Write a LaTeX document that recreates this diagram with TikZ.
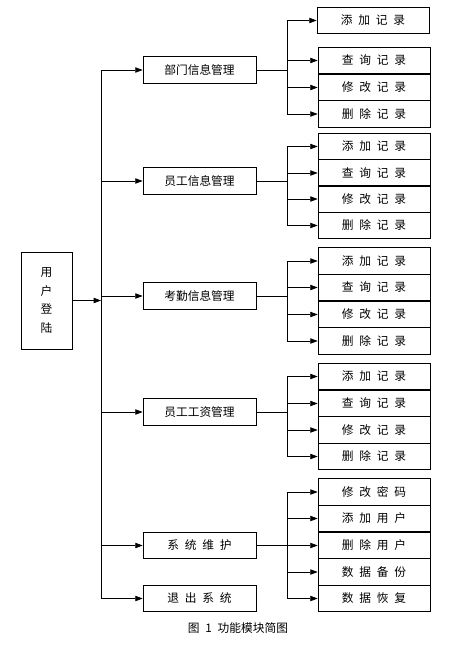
\documentclass[tikz,border=0pt]{standalone}
\usepackage{fontspec}
\setmainfont{Noto Sans CJK SC}
\newfontfamily\boxfont[WordSpace=2.2]{Noto Sans CJK SC}
\usetikzlibrary{arrows.meta}

\begin{document}
\begin{tikzpicture}[x=0.03cm, y=-0.03cm,
    % Box styles
    userbox/.style={draw, line width=0.6pt, minimum width=1.53cm, minimum height=2.91cm, align=center, font=\boxfont\fontsize{10}{16}\selectfont},
    mainbox/.style={draw, line width=0.6pt, minimum width=3.39cm, minimum height=0.8cm, inner sep=0pt, font=\boxfont\fontsize{10}{12}\selectfont},
    leafbox/.style={mainbox, minimum width=3.36cm},
    % Connector styles
    conn/.style={line width=0.6pt, -{Triangle[length=2.2mm,width=1.6mm]}},
    wire/.style={line width=0.6pt},
    caption/.style={font=\boxfont\fontsize{10}{12}\selectfont},
]
\useasboundingbox (0,0) rectangle (455,645);

% Login box and trunk
\node[userbox] (login) at (46.5, 300.5) {用\\户\\登\\陆};
\coordinate (trunk) at (101, 300.5);

% Module boxes
\node[mainbox] (dept) at (199.5, 70) {部门信息管理};
\node[mainbox] (staff) at (199.5, 181) {员工信息管理};
\node[mainbox] (attend) at (199.5, 296) {考勤信息管理};
\node[mainbox] (salary) at (199.5, 412) {员工工资管理};
\node[mainbox] (sys) at (199.5, 545.5) {系 统 维 护};
\node[mainbox] (quit) at (199.5, 598.5) {退 出 系 统};

% Fork coordinates on the right
\coordinate (fork) at (287, 0);

% Department records
\node[leafbox] (dept-add) at (373, 20.5) {添 加 记 录};
\node[leafbox] (dept-query) at (374, 60.5) {查 询 记 录};
\node[leafbox] (dept-edit) at (374, 87.5) {修 改 记 录};
\node[leafbox] (dept-del) at (374, 114) {删 除 记 录};

% Staff records
\node[leafbox] (staff-add) at (374, 146.5) {添 加 记 录};
\node[leafbox] (staff-query) at (374, 173) {查 询 记 录};
\node[leafbox] (staff-edit) at (374, 199) {修 改 记 录};
\node[leafbox] (staff-del) at (374, 225.5) {删 除 记 录};

% Attendance records
\node[leafbox] (attend-add) at (374, 261) {添 加 记 录};
\node[leafbox] (attend-query) at (374, 287.5) {查 询 记 录};
\node[leafbox] (attend-edit) at (374, 314.5) {修 改 记 录};
\node[leafbox] (attend-del) at (374, 341) {删 除 记 录};

% Salary records
\node[leafbox] (salary-add) at (374, 376.5) {添 加 记 录};
\node[leafbox] (salary-query) at (374, 403.5) {查 询 记 录};
\node[leafbox] (salary-edit) at (374, 430) {修 改 记 录};
\node[leafbox] (salary-del) at (374, 456.5) {删 除 记 录};

% System maintenance
\node[leafbox] (sys-pwd) at (374, 492) {修 改 密 码};
\node[leafbox] (sys-adduser) at (374, 518.5) {添 加 用 户};
\node[leafbox] (sys-deluser) at (374, 545.5) {删 除 用 户};
\node[leafbox] (sys-backup) at (374, 572) {数 据 备 份};
\node[leafbox] (sys-restore) at (374, 598.5) {数 据 恢 复};

% Login to trunk
\draw[conn] (login.east) -- (trunk);
\draw[wire] (trunk |- dept.west) -- (trunk |- quit.west);
\draw[conn] (trunk |- dept.west) -- (dept.west);
\draw[conn] (trunk |- staff.west) -- (staff.west);
\draw[conn] (trunk |- attend.west) -- (attend.west);
\draw[conn] (trunk |- salary.west) -- (salary.west);
\draw[conn] (trunk |- sys.west) -- (sys.west);
\draw[conn] (trunk |- quit.west) -- (quit.west);

% Department branch
\draw[wire] (dept.east) -- (fork |- dept.east);
\draw[wire] (fork |- dept-add.west) -- (fork |- dept-del.west);
\draw[conn] (fork |- dept-add.west) -- (dept-add.west);
\draw[conn] (fork |- dept-query.west) -- (dept-query.west);
\draw[conn] (fork |- dept-edit.west) -- (dept-edit.west);
\draw[conn] (fork |- dept-del.west) -- (dept-del.west);

% Staff branch
\draw[wire] (staff.east) -- (fork |- staff.east);
\draw[wire] (fork |- staff-add.west) -- (fork |- staff-del.west);
\draw[conn] (fork |- staff-add.west) -- (staff-add.west);
\draw[conn] (fork |- staff-query.west) -- (staff-query.west);
\draw[conn] (fork |- staff-edit.west) -- (staff-edit.west);
\draw[conn] (fork |- staff-del.west) -- (staff-del.west);

% Attendance branch
\draw[wire] (attend.east) -- (fork |- attend.east);
\draw[wire] (fork |- attend-add.west) -- (fork |- attend-del.west);
\draw[conn] (fork |- attend-add.west) -- (attend-add.west);
\draw[conn] (fork |- attend-query.west) -- (attend-query.west);
\draw[conn] (fork |- attend-edit.west) -- (attend-edit.west);
\draw[conn] (fork |- attend-del.west) -- (attend-del.west);

% Salary branch
\draw[wire] (salary.east) -- (fork |- salary.east);
\draw[wire] (fork |- salary-add.west) -- (fork |- salary-del.west);
\draw[conn] (fork |- salary-add.west) -- (salary-add.west);
\draw[conn] (fork |- salary-query.west) -- (salary-query.west);
\draw[conn] (fork |- salary-edit.west) -- (salary-edit.west);
\draw[conn] (fork |- salary-del.west) -- (salary-del.west);

% System branch
\draw[wire] (sys.east) -- (fork |- sys.east);
\draw[wire] (fork |- sys-pwd.west) -- (fork |- sys-restore.west);
\draw[conn] (fork |- sys-pwd.west) -- (sys-pwd.west);
\draw[conn] (fork |- sys-adduser.west) -- (sys-adduser.west);
\draw[conn] (fork |- sys-deluser.west) -- (sys-deluser.west);
\draw[conn] (fork |- sys-backup.west) -- (sys-backup.west);
\draw[conn] (fork |- sys-restore.west) -- (sys-restore.west);

% Caption
\node[caption] (cap) at (238, 628) {图 1 功能模块简图};

\end{tikzpicture}
\end{document}
